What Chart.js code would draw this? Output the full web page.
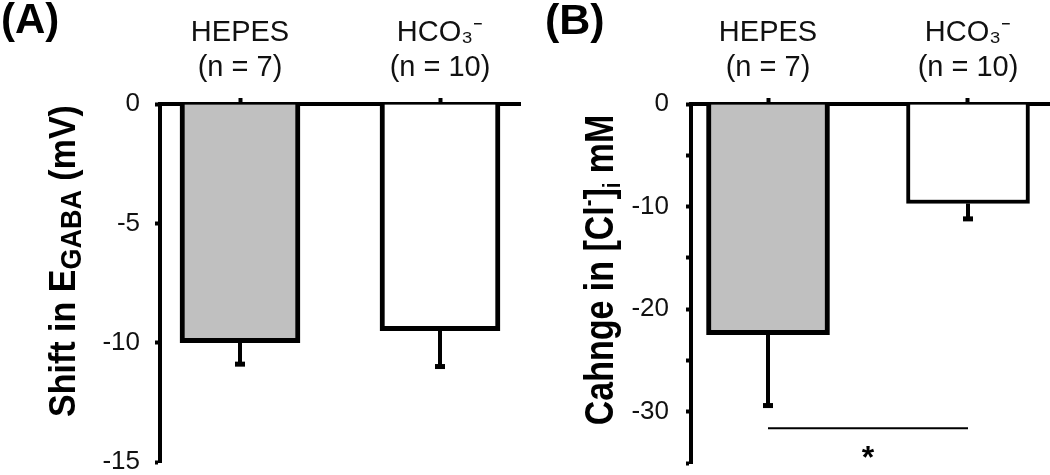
<!DOCTYPE html>
<html><head><meta charset="utf-8">
<script src="https://cdn.jsdelivr.net/npm/chart.js@4.4.0/dist/chart.umd.min.js"></script>
<style>
html,body{margin:0;padding:0;background:#fff;}
#wrap{position:relative;width:1050px;height:475px;overflow:hidden;}
.pane{position:absolute;top:0;width:525px;height:475px;overflow:hidden;}
canvas{display:block;}
</style></head><body>
<div id="wrap">
<div class="pane" style="left:0"><canvas id="cA" width="525" height="490"></canvas></div>
<div class="pane" style="left:525px"><canvas id="cB" width="525" height="493"></canvas></div>
</div>
<script>
// ---- data ----
const categories = ['HEPES', 'HCO₃⁻'];
const groupSizes = ['(n = 7)', '(n = 10)'];
const shiftValues = [-10.0, -9.5];
const shiftErrors = [0.9, 1.5];
const chlorideValues = [-22.5, -9.7];
const chlorideErrors = [6.9, 1.5];
const shiftTicks = [0, -5, -10, -15];
const shiftTickLabels = ['0', '-5', '-10', '-15'];
const chlorideTicks = [0, -5, -10, -15, -20, -25, -30, -35];
const chlorideTickLabels = ['0', '', '-10', '', '-20', '', '-30', ''];
const significance = [{from: 0, to: 1, level: -31.6, markLevel: -33.8, mark: '*'}];

const FONT = '"Liberation Sans", Arial, Helvetica, sans-serif';
Chart.defaults.font.family = FONT;

function drawRich(ctx, segs, cx, cy, baseSize, stretch) {
  ctx.save();
  ctx.translate(cx, cy);
  ctx.rotate(-Math.PI / 2);
  ctx.scale(1, stretch);
  ctx.fillStyle = '#000';
  ctx.textBaseline = 'alphabetic';
  ctx.textAlign = 'left';
  let total = 0;
  const widths = segs.map(s => {
    ctx.font = 'bold ' + Math.round(baseSize * s.s) + 'px ' + FONT;
    const w = ctx.measureText(s.t).width;
    total += w;
    return w;
  });
  let x = -total / 2;
  segs.forEach((s, i) => {
    ctx.font = 'bold ' + Math.round(baseSize * s.s) + 'px ' + FONT;
    ctx.fillText(s.t, x, (s.dy || 0));
    x += widths[i];
  });
  ctx.restore();
}

function makePanel(canvasId, cfg) {
  const overlay = {
    id: 'overlay' + canvasId,
    afterDatasetsDraw(chart) {
      const ctx = chart.ctx, xs = chart.scales.x, ys = chart.scales.y;
      ctx.save();
      ctx.fillStyle = '#000';
      cfg.values.forEach((v, i) => {
        const px = xs.getPixelForValue(i + 1);
        const y0 = ys.getPixelForValue(v);
        const y1 = ys.getPixelForValue(v - cfg.errors[i]);
        ctx.fillRect(px - 2, y0, 4, y1 - y0);
        ctx.fillRect(px - 5, y1 - 2.5, 10, 5);
      });
      ctx.restore();
    },
    afterDraw(chart) {
      const ctx = chart.ctx, xs = chart.scales.x, ys = chart.scales.y;
      ctx.save();
      ctx.fillStyle = '#000';
      ctx.font = 'bold ' + cfg.letterSize + 'px ' + FONT;
      ctx.textBaseline = 'alphabetic';
      ctx.textAlign = 'left';
      ctx.fillText(cfg.letter, cfg.letterX, cfg.letterY);
      ctx.restore();
      drawRich(ctx, cfg.title, cfg.titleX, cfg.titleY, 34, cfg.titleStretch);
      (cfg.sig || []).forEach(s => {
        const xa = xs.getPixelForValue(s.from + 1);
        const xb = xs.getPixelForValue(s.to + 1);
        const yl = ys.getPixelForValue(s.level);
        ctx.save();
        ctx.strokeStyle = '#000';
        ctx.lineWidth = 2;
        ctx.beginPath();
        ctx.moveTo(xa, yl);
        ctx.lineTo(xb, yl);
        ctx.stroke();
        ctx.fillStyle = '#000';
        ctx.font = 'bold 32px ' + FONT;
        ctx.textAlign = 'center';
        ctx.textBaseline = 'middle';
        ctx.fillText(s.mark, (xa + xb) / 2, ys.getPixelForValue(s.markLevel) + 8);
        ctx.restore();
      });
    }
  };
  return new Chart(document.getElementById(canvasId), {
    type: 'bar',
    data: {
      datasets: [{
        data: cfg.values.map((v, i) => ({x: i + 1, y: v})),
        backgroundColor: ['#c0c0c0', '#ffffff'],
        borderColor: '#000',
        borderWidth: cfg.borderWidth,
        barThickness: cfg.barThickness,
        borderSkipped: 'start'
      }]
    },
    options: {
      responsive: false,
      animation: false,
      devicePixelRatio: 1,
      layout: {padding: cfg.padding},
      plugins: {legend: {display: false}, tooltip: {enabled: false}},
      scales: {
        x: {
          type: 'linear', position: 'top', min: cfg.xMin, max: cfg.xMax, offset: false,
          afterBuildTicks: s => { s.ticks = categories.map((c, i) => ({value: i + 1})); },
          afterFit: s => { s.height = 104; },
          ticks: {
            autoSkip: false, maxRotation: 0, padding: 13, color: '#111',
            font: {family: FONT, size: 29, lineHeight: 1.2},
            callback: (v, i) => [categories[i], groupSizes[i]]
          },
          grid: {offset: false, drawOnChartArea: false, drawTicks: true, tickLength: 6, tickWidth: 4, tickColor: '#000'},
          border: {display: true, color: '#000', width: 4}
        },
        y: {
          type: 'linear', min: cfg.yMin, max: 0,
          afterBuildTicks: s => { s.ticks = cfg.yTicks.map(v => ({value: v})); },
          afterFit: s => { s.width = cfg.yWidth; },
          ticks: {
            padding: cfg.yPad, color: '#111',
            font: {family: FONT, size: 26, lineHeight: 1},
            callback: (v, i) => cfg.yLabels[i]
          },
          grid: {drawOnChartArea: false, drawTicks: true, tickLength: 5, tickWidth: 4, tickColor: '#000'},
          border: {display: true, color: '#000', width: 4}
        }
      }
    },
    plugins: [overlay]
  });
}

makePanel('cA', {
  values: shiftValues, errors: shiftErrors,
  yMin: -15, yTicks: shiftTicks, yLabels: shiftTickLabels,
  xMin: 0.6, xMax: 2.4, yWidth: 160, yPad: 15,
  padding: {left: 0, top: 0, right: 5, bottom: 13},
  borderWidth: 5, barThickness: 120,
  letter: '(A)', letterX: 1, letterY: 33, letterSize: 42,
  title: [{t: 'Shift in E', s: 1}, {t: 'GABA', s: 0.78, dy: 5}, {t: ' (mV)', s: 1}],
  titleX: 75, titleY: 261, titleStretch: 1.1
});

makePanel('cB', {
  values: chlorideValues, errors: chlorideErrors,
  yMin: -35, yTicks: chlorideTicks, yLabels: chlorideTickLabels,
  xMin: 0.615, xMax: 2.41, yWidth: 166, yPad: 17,
  padding: {left: 0, top: 0, right: 0, bottom: 12},
  borderWidth: [5, 4], barThickness: 123,
  letter: '(B)', letterX: 20, letterY: 34, letterSize: 43,
  title: [{t: 'Cahnge in [Cl', s: 1}, {t: '-', s: 0.6, dy: -14}, {t: ']', s: 1}, {t: 'i', s: 0.6, dy: 6}, {t: ' mM', s: 1}],
  titleX: 88, titleY: 270, titleStretch: 1.2,
  sig: significance
});
</script>
</body></html>
